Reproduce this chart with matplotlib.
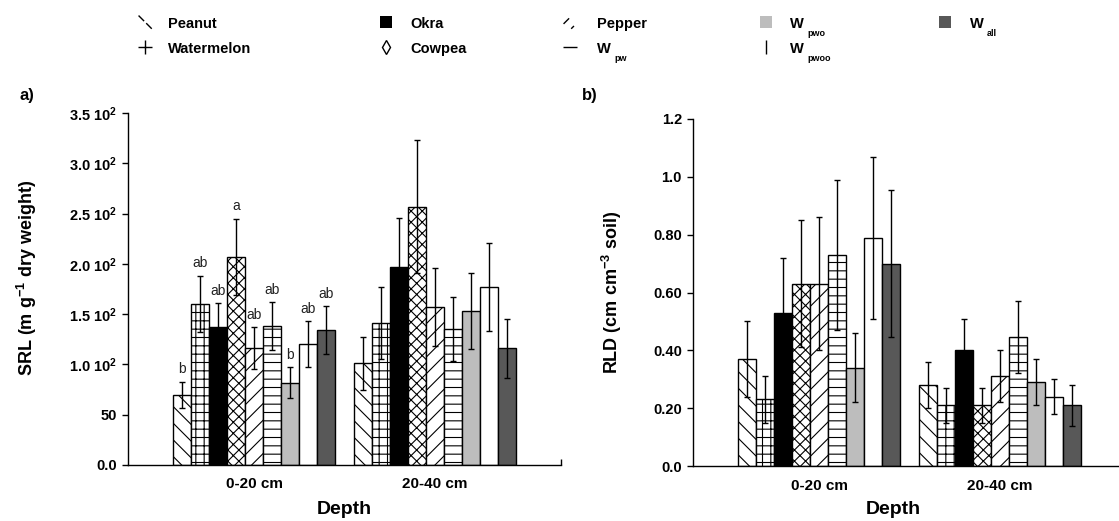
## 0.1
import numpy as np
import matplotlib as mpl, matplotlib.pyplot as plt
from matplotlib.patches import Rectangle
from matplotlib.lines import Line2D
from matplotlib.path import Path

## 0.2 data
depths      = ['0-20 cm', '20-40 cm']
series      = ['Peanut', 'Watermelon', 'Okra', 'Cowpea', 'Pepper', 'W', 'W', 'W', 'W']
series_sub  = ['', '', '', '', '', 'pw', 'pwo', 'pwoo', 'all']

srl_0_20      = [70, 160, 137, 207, 116, 138, 82, 120, 134]
srl_0_20_err  = [13, 28, 24, 38, 21, 24, 15, 23, 24]
srl_20_40     = [101, 141, 197, 257, 157, 135, 153, 177, 116]
srl_20_40_err = [26, 36, 49, 66, 39, 32, 38, 44, 29]
srl_letters   = ['b', 'ab', 'ab', 'a', 'ab', 'ab', 'b', 'ab', 'ab']

rld_0_20      = [0.37, 0.23, 0.53, 0.63, 0.63, 0.73, 0.34, 0.79, 0.70]
rld_0_20_err  = [0.13, 0.08, 0.19, 0.22, 0.23, 0.26, 0.12, 0.28, 0.255]
rld_20_40     = [0.28, 0.21, 0.40, 0.21, 0.31, 0.445, 0.29, 0.24, 0.21]
rld_20_40_err = [0.08, 0.06, 0.11, 0.06, 0.09, 0.125, 0.08, 0.06, 0.07]

srl_ticks  = [0, 50, 100, 150, 200, 250, 300, 350]
srl_labels = ['0.0', '50', '1.0 10$^{2}$', '1.5 10$^{2}$', '2.0 10$^{2}$',
              '2.5 10$^{2}$', '3.0 10$^{2}$', '3.5 10$^{2}$']
rld_ticks  = [0.0, 0.2, 0.4, 0.6, 0.8, 1.0, 1.2]
rld_labels = ['0.0', '0.20', '0.40', '0.60', '0.80', '1.0', '1.2']

## 0.3 styles
hatches = ['\\\\', '++', '', 'xxx', '//', '--', '', '', '']
colors  = ['white', 'white', 'black', 'white', 'white', 'white', '#bdbdbd', 'white', '#585858']

plt.rcParams['font.family'] = ['Liberation Sans', 'DejaVu Sans']
plt.rcParams['font.weight'] = 'bold'
plt.rcParams['axes.labelweight'] = 'bold'
plt.rcParams['mathtext.fontset'] = 'custom'
plt.rcParams['mathtext.rm'] = 'Liberation Sans:bold'
plt.rcParams['mathtext.it'] = 'Liberation Sans:bold'
plt.rcParams['mathtext.bf'] = 'Liberation Sans:bold'
plt.rcParams['hatch.linewidth'] = 0.8

W, H = 1119, 521
fx = lambda px: px / W
fy = lambda py: 1 - py / H

## 1. figure and axes
fig = plt.figure(figsize=(W / 100, H / 100), dpi=100)
ax1 = fig.add_axes([fx(128), fy(465), 433 / W, 352 / H])
ax2 = fig.add_axes([fx(693), fy(466), 433 / W, 347 / H])

group_x = np.array([1.0, 2.0])
width = 0.1


def draw_panel(ax, v1, e1, v2, e2, ylim, ticks, labels):
    for i in range(len(series)):
        xs = group_x + (i - 4) * width
        ys = [v1[i], v2[i]]
        es = [e1[i], e2[i]]
        ax.bar(xs, ys, width=width, color=colors[i], edgecolor='black', linewidth=1,
               hatch=hatches[i], zorder=2)
        ax.errorbar(xs, ys, yerr=es, fmt='none', ecolor='black', elinewidth=1,
                    capsize=2.5, capthick=1, zorder=3)
    ax.set_xlim(0.3, 2.7)
    ax.set_ylim(*ylim)
    ax.spines[['top', 'right']].set_visible(False)
    ax.spines[['left', 'bottom']].set_linewidth(1)
    ax.set_yticks(ticks)
    ax.set_yticklabels(labels, fontsize=10.5)
    ax.set_xticks(group_x)
    ax.set_xticklabels(depths, fontsize=11)
    ax.set_xticks([2.7], minor=True)
    ax.tick_params(axis='x', which='major', length=0, pad=9)
    ax.tick_params(axis='x', which='minor', direction='in', length=4, width=1)
    ax.tick_params(axis='y', direction='out', length=4, width=1, pad=4)
    ax.set_xlabel('Depth', fontsize=14, fontweight='bold')


draw_panel(ax1, srl_0_20, srl_0_20_err, srl_20_40, srl_20_40_err, (0, 350), srl_ticks, srl_labels)
draw_panel(ax2, rld_0_20, rld_0_20_err, rld_20_40, rld_20_40_err, (0, 1.2), rld_ticks, rld_labels)

# significance letters, first depth of SRL only
for i, letter in enumerate(srl_letters):
    x = group_x[0] + (i - 4) * width
    ax1.annotate(letter, (x, srl_0_20[i] + srl_0_20_err[i]), xytext=(0, 4),
                 textcoords='offset points', ha='center', va='bottom',
                 fontsize=10, fontweight='normal', color='#222222')

## 2. labels
ax1.set_ylabel('SRL (m g$^{-1}$ dry weight)', fontsize=13, fontweight='bold')
ax2.set_ylabel('RLD (cm cm$^{-3}$ soil)', fontsize=13, fontweight='bold')
ax1.yaxis.set_label_coords(fx(27), fy(278), transform=fig.transFigure)
ax2.yaxis.set_label_coords(fx(612), fy(292), transform=fig.transFigure)
ax1.xaxis.set_label_coords(fx(344), fy(510), transform=fig.transFigure)
ax2.xaxis.set_label_coords(fx(893), fy(510), transform=fig.transFigure)
for ax in (ax1, ax2):
    ax.xaxis.label.set_va('center')
    ax.yaxis.label.set_va('center')

fig.text(fx(20), fy(100), 'a)', fontsize=12, ha='left', va='baseline')
fig.text(fx(582), fy(100), 'b)', fontsize=12, ha='left', va='baseline')

## 3. legend, drawn by hand to keep SigmaPlot-like symbols
col_marker = [145, 386, 570, 766, 945]
col_text   = [168, 410, 597, 790, 970]
row_base   = [28, 53]
row_mark   = [22, 47]

peanut_mark = Path([(-1, 1), (-0.2, 0.2), (0.1, -0.1), (0.9, -0.9)],
                   [Path.MOVETO, Path.LINETO, Path.MOVETO, Path.LINETO])
pepper_mark = Path([(-1, -0.2), (-0.2, 0.6), (0.1, -0.9), (0.5, -0.5)],
                   [Path.MOVETO, Path.LINETO, Path.MOVETO, Path.LINETO])
markers = [peanut_mark, '+', None, 'd', pepper_mark, '_', None, '|', None]
msizes  = [10, 10, 0, 7, 10, 10, 0, 10, 0]

for i in range(len(series)):
    c, r = i // 2, i % 2
    xm, ym = col_marker[c], row_mark[r]
    if markers[i] is None:
        fig.add_artist(Rectangle((fx(xm - 6), fy(ym + 6)), 12 / W, 12 / H,
                                 transform=fig.transFigure, facecolor=colors[i],
                                 edgecolor='none'))
    else:
        fig.add_artist(Line2D([fx(xm)], [fy(ym)], transform=fig.transFigure,
                              marker=markers[i], markersize=msizes[i], color='black',
                              markerfacecolor='none', markeredgewidth=1,
                              linestyle='none'))
    fig.text(fx(col_text[c]), fy(row_base[r]), series[i], fontsize=10.5,
             ha='left', va='baseline')
    if series_sub[i]:
        fig.text(fx(col_text[c] + 17), fy(row_base[r] + 8), series_sub[i],
                 fontsize=6.5, ha='left', va='baseline')

## 4. save
plt.savefig('out.png', dpi=100)
plt.close(fig)
